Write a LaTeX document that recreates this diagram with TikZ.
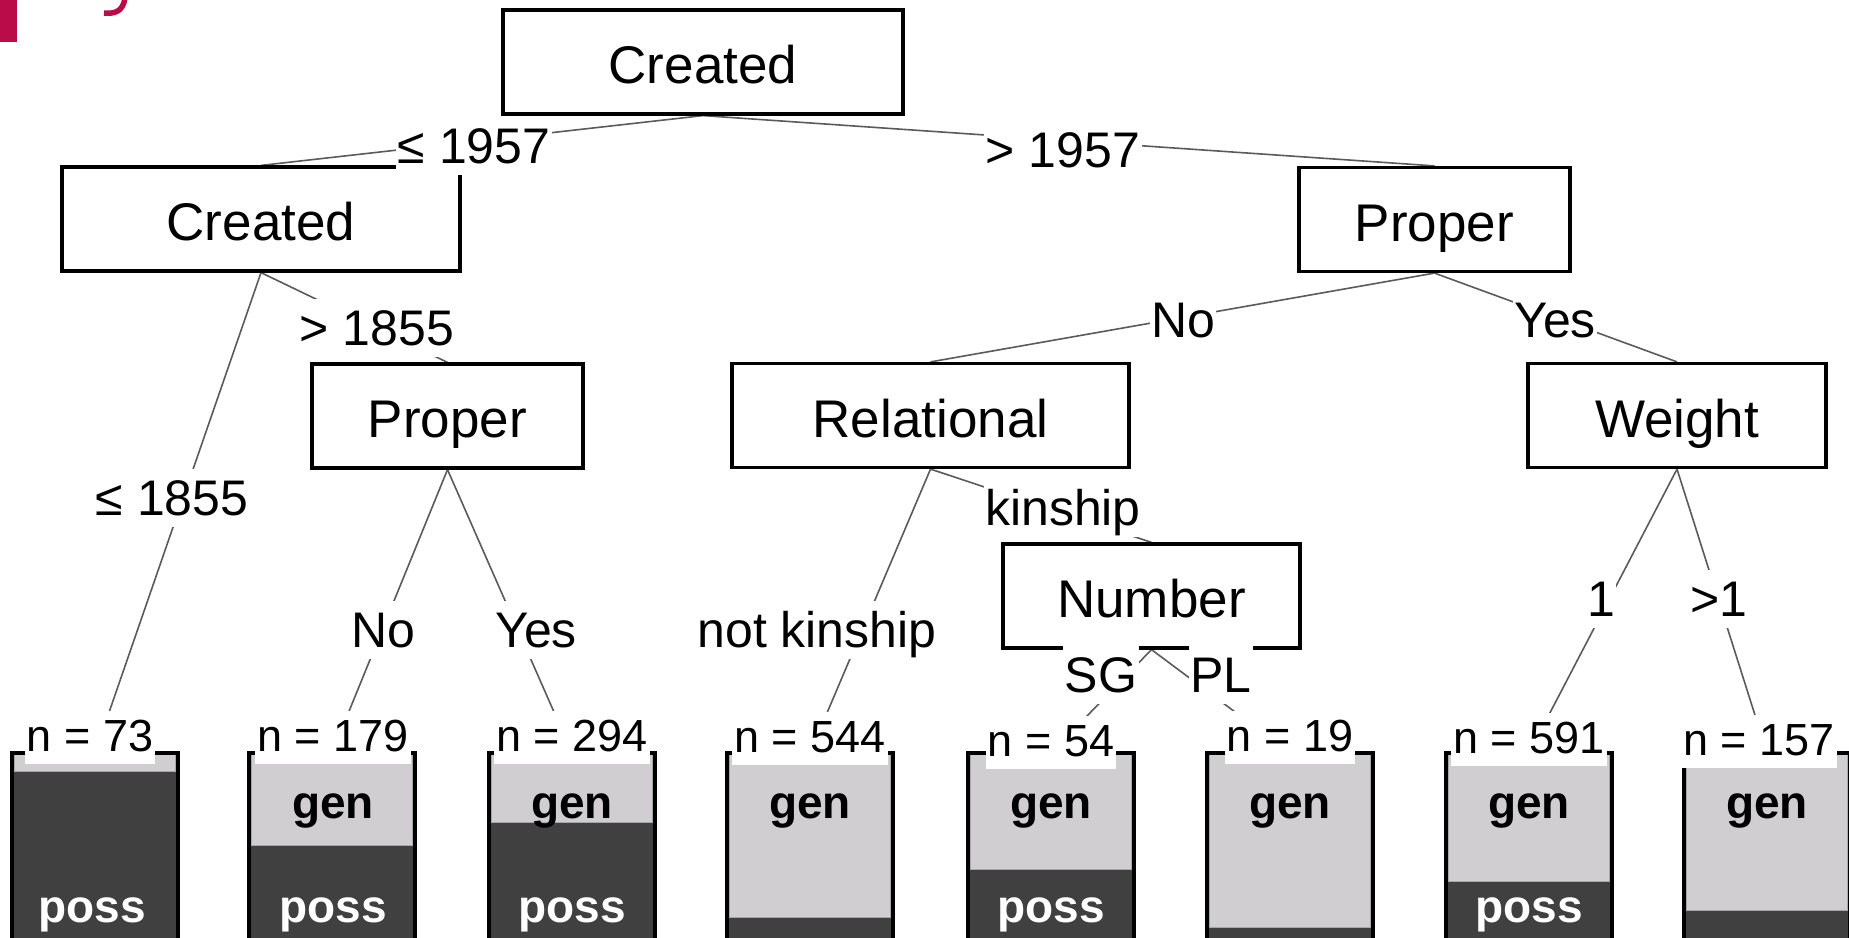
\documentclass[tikz,border=0pt]{standalone}
\usepackage{fontspec}
\setmainfont{Liberation Sans}
\definecolor{lightbar}{RGB}{208,206,208}
\definecolor{darkbar}{RGB}{64,64,64}
\definecolor{edgegray}{RGB}{90,90,90}
\definecolor{crimson}{RGB}{186,12,72}
\pgfdeclarelayer{background}
\pgfsetlayers{background,main}
\tikzset{
 splitbox/.style={draw=black, line width=3.2, fill=white, minimum height=104, inner sep=0,
   text height=43, text depth=0, font=\fontsize{53}{60}\selectfont},
 edgelab/.style={fill=white, inner xsep=1.5, inner ysep=0, text height=46, text depth=12,
   anchor=base, font=\fontsize{50}{60}\selectfont},
 nlab/.style={fill=white, inner xsep=2, inner ysep=0, text height=40, text depth=13,
   anchor=base, font=\fontsize{45}{54}\selectfont},
 barlab/.style={anchor=base, inner sep=0, font=\fontsize{46}{54}\selectfont\bfseries},
 leafnode/.style={minimum width=166, minimum height=200, anchor=north, inner sep=0, outer sep=0},
 edgeline/.style={draw=edgegray, line width=1.6},
}
\newcommand\leafbar[3]{%
  \node[leafnode] (#1) at (#2,753) {};
  \fill[darkbar] (#2-81.5,753) rectangle (#2+81.5,960);
  \filldraw[fill=lightbar, draw=gray!70, line width=1] (#2-80.5,753) rectangle (#2+80.5,#3);
  \draw[black, line width=3.2] (#2-83,960) -- (#2-83,753) -- (#2+83,753) -- (#2+83,960);
}
\begin{document}
\begin{tikzpicture}[x=1pt,y=-1pt]
\useasboundingbox (0,0) rectangle (1849,937);
\clip (0,0) rectangle (1849,937);
% title fragment
\fill[crimson] (0,0) rectangle (17,42);
\draw[crimson, line width=5.5] (125,-2) .. controls (123,12) and (114,14) .. (104,13);
% split nodes
\node[splitbox, minimum width=400] (root) at (703,62) {Created};
\node[splitbox, minimum width=398] (created2) at (261,219) {Created};
\node[splitbox, minimum width=271] (properR) at (1434.5,219.5) {Proper};
\node[splitbox, minimum width=271] (properL) at (447.5,416) {Proper};
\node[splitbox, minimum width=397] (relational) at (930.5,415.5) {Relational};
\node[splitbox, minimum width=298] (weight) at (1677,415.5) {Weight};
\node[splitbox, minimum width=297] (number) at (1151.5,596) {Number};
% leaves
\leafbar{l1}{95}{771}
\leafbar{l2}{332}{845}
\leafbar{l3}{572}{822}
\leafbar{l4}{810}{917}
\leafbar{l5}{1051}{869}
\leafbar{l6}{1290}{927}
\leafbar{l7}{1529}{881}
\leafbar{l8}{1767}{910}
% edges
\begin{pgfonlayer}{background}
\draw[edgeline] (root.south) -- (created2.north);
\draw[edgeline] (root.south) -- (properR.north);
\draw[edgeline] (created2.south) -- (l1.north);
\draw[edgeline] (created2.south) -- (properL.north);
\draw[edgeline] (properL.south) -- (l2.north);
\draw[edgeline] (properL.south) -- (l3.north);
\draw[edgeline] (properR.south) -- (relational.north);
\draw[edgeline] (properR.south) -- (weight.north);
\draw[edgeline] (relational.south) -- (l4.north);
\draw[edgeline] (relational.south) -- (number.north);
\draw[edgeline] (number.south) -- (l5.north);
\draw[edgeline] (number.south) -- (l6.north);
\draw[edgeline] (weight.south) -- (l7.north);
\draw[edgeline] (weight.south) -- (l8.north);
\end{pgfonlayer}
% bar labels
\node[barlab, text=white] (p1) at (92,922) {poss};
\node[barlab] (g2) at (333,818) {gen};
\node[barlab, text=white] (p2) at (333,922) {poss};
\node[barlab] (g3) at (572,818) {gen};
\node[barlab, text=white] (p3) at (572,922) {poss};
\node[barlab] (g4) at (810,818) {gen};
\node[barlab] (g5) at (1051,818) {gen};
\node[barlab, text=white] (p5) at (1051,922) {poss};
\node[barlab] (g6) at (1290,818) {gen};
\node[barlab] (g7) at (1529,818) {gen};
\node[barlab, text=white] (p7) at (1529,922) {poss};
\node[barlab] (g8) at (1767,818) {gen};
% edge labels
\node[edgelab] (e1) at (474,163) {≤ 1957};
\node[edgelab] (e2) at (1063,167) {> 1957};
\node[edgelab] (e3) at (377,345) {> 1855};
\node[edgelab] (e4) at (172,515) {≤ 1855};
\node[edgelab] (e5) at (1183,337) {No};
\node[edgelab] (e6) at (1555,337) {Yes};
\node[edgelab] (e7) at (383,647) {No};
\node[edgelab] (e8) at (536,647) {Yes};
\node[edgelab] (e9) at (817,647) {not kinship};
\node[edgelab] (e10) at (1063,525) {kinship};
\node[edgelab] (e11) at (1101,692) {SG};
\node[edgelab] (e12) at (1221,692) {PL};
\node[edgelab] (e13) at (1601,616) {1};
\node[edgelab] (e14) at (1719,616) {>1};
% n labels
\node[nlab] (n1) at (90,751) {n = 73};
\node[nlab] (n2) at (333,751) {n = 179};
\node[nlab] (n3) at (572,751) {n = 294};
\node[nlab] (n4) at (810,752) {n = 544};
\node[nlab] (n5) at (1051,756) {n = 54};
\node[nlab] (n6) at (1290,751) {n = 19};
\node[nlab] (n7) at (1529,753) {n = 591};
\node[nlab] (n8) at (1759,755) {n = 157};
\end{tikzpicture}
\end{document}
